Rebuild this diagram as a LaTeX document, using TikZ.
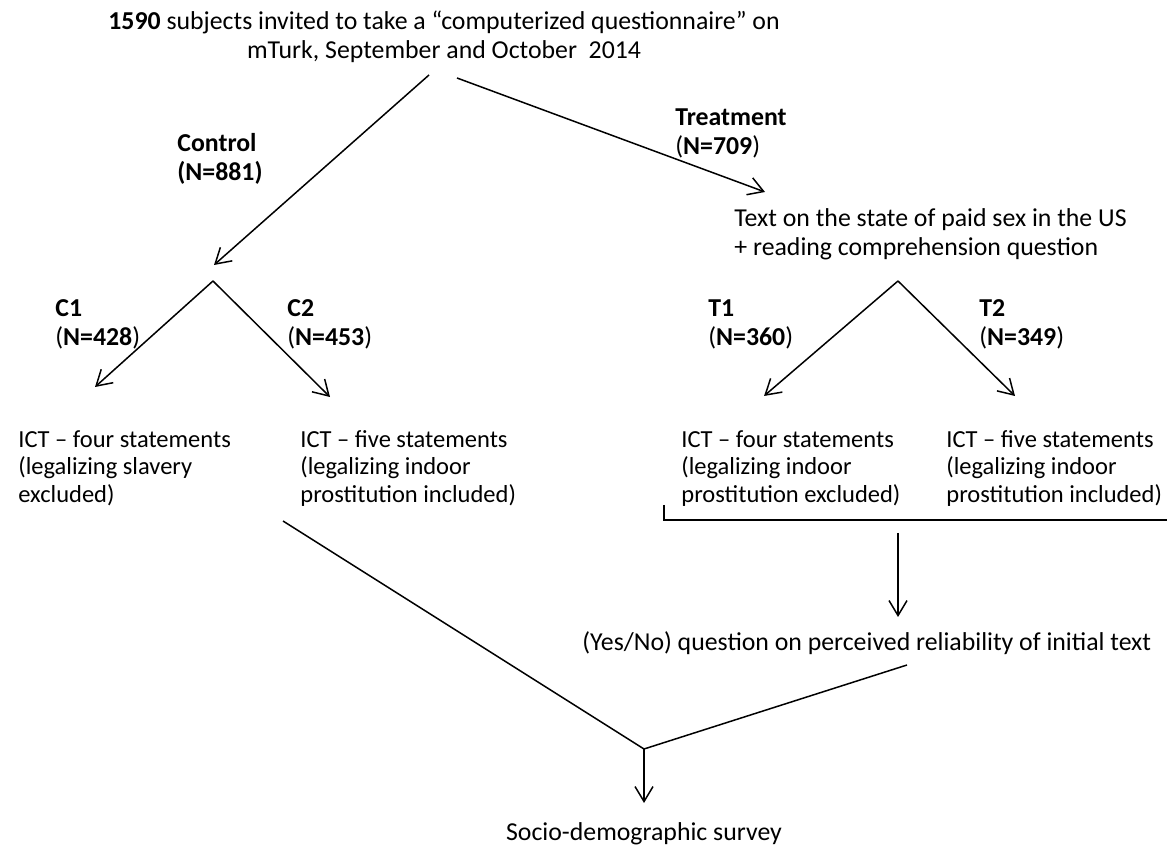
\documentclass[tikz,border=0pt]{standalone}
\usepackage{fontspec}
\setmainfont{Carlito}
\usetikzlibrary{arrows.meta}
\tikzset{
  arr/.style={-{Straight Barb[length=7.5pt,width=9pt]}, line width=0.75pt},
  plain/.style={line width=0.75pt},
  txt/.style={anchor=base west, align=left, inner sep=0pt, font=\fontsize{12.9}{14.8}\selectfont},
  ict/.style={txt, font=\fontsize{12.25}{14}\selectfont},
}
\newcommand{\branch}[3]{
  \foreach \e in {#2,#3} {
    \draw[arr] (#1) -- (\e);
  }
}

\begin{document}
\begin{tikzpicture}[x=0.5pt,y=-0.5pt]
  \useasboundingbox (0,0) rectangle (1167,849);
  \node[txt, align=center] (invite) at (108,59)
    {\textbf{1590} subjects invited to take a “computerized questionnaire” on\\mTurk, September and October\ \ 2014};
  \node[txt] (control) at (177,181) {\textbf{Control}\\\textbf{(N=881)}};
  \node[txt] (treatment) at (675,155) {\textbf{Treatment}\\(\textbf{N=709})};
  \node[txt] (reading) at (734,256) {Text on the state of paid sex in the US\\+ reading comprehension question};
  \node[txt] (c1) at (55,346) {\textbf{C1}\\(\textbf{N=428})};
  \node[txt] (c2) at (287,346) {\textbf{C2}\\(\textbf{N=453})};
  \node[txt] (t1) at (708,346) {\textbf{T1}\\(\textbf{N=360})};
  \node[txt] (t2) at (979,346) {\textbf{T2}\\(\textbf{N=349})};
  \node[ict] (ictc1) at (18,503) {ICT – four statements\\(legalizing slavery\\excluded)};
  \node[ict] (ictc2) at (300,503) {ICT – five statements\\(legalizing indoor\\prostitution included)};
  \node[ict] (ictt1) at (681,503) {ICT – four statements\\(legalizing indoor\\prostitution excluded)};
  \node[ict] (ictt2) at (946,503) {ICT – five statements\\(legalizing indoor\\prostitution included)};
  \node[txt] (reliab) at (582,650) {(Yes/No) question on perceived reliability of initial text};
  \node[txt, anchor=base] (survey) at (644,840) {Socio-demographic survey};

  \coordinate (top-l) at (429,75);
  \coordinate (top-r) at (457,78);
  \coordinate (ctrl-in) at (214,265);
  \coordinate (treat-in) at (765,192);
  \coordinate (ctrl-fork) at (213,281);
  \coordinate (c1-in) at (95,387);
  \coordinate (c2-in) at (330,397);
  \coordinate (treat-fork) at (898,281);
  \coordinate (t1-in) at (764,396);
  \coordinate (t2-in) at (1015,396);
  \coordinate (brace-a) at (664,505);
  \coordinate (brace-b) at (664,520);
  \coordinate (brace-c) at (1167,520);
  \coordinate (brace-out) at (898,533);
  \coordinate (reliab-in) at (898,617);
  \coordinate (ctrl-out) at (283,521);
  \coordinate (reliab-out) at (907,665);
  \coordinate (join) at (644,749);
  \coordinate (survey-in) at (644,803);

  \draw[arr] (top-l) -- (ctrl-in);
  \draw[arr] (top-r) -- (treat-in);
  \branch{ctrl-fork}{c1-in}{c2-in}
  \branch{treat-fork}{t1-in}{t2-in}
  \draw[plain] (brace-a) -- (brace-b) -- (brace-c);
  \draw[arr] (brace-out) -- (reliab-in);
  \draw[plain] (ctrl-out) -- (join) -- (reliab-out);
  \draw[arr] (join) -- (survey-in);
\end{tikzpicture}
\end{document}
